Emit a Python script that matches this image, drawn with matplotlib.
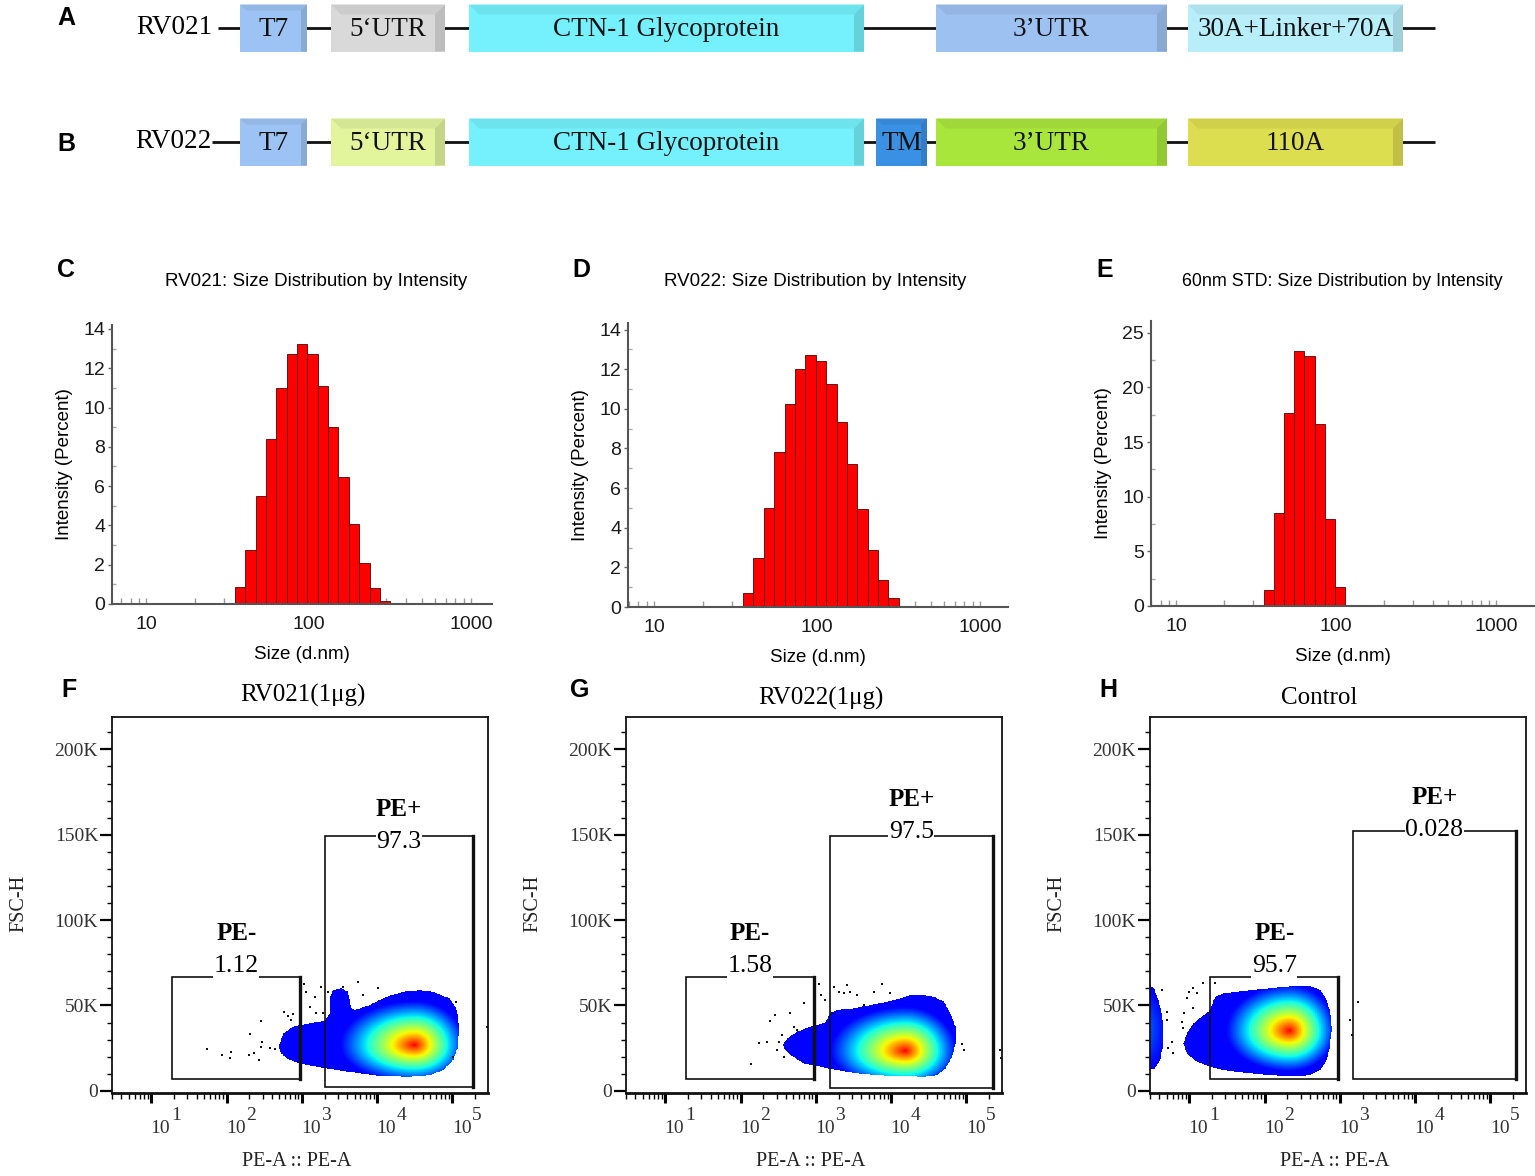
import numpy as np
import matplotlib
matplotlib.use("Agg")
import matplotlib.pyplot as plt
from matplotlib.patches import Rectangle, Polygon
from matplotlib.path import Path
from matplotlib.colors import LinearSegmentedColormap, to_rgb
import matplotlib.ticker as mticker

plt.rcParams["font.family"] = ["Liberation Sans", "DejaVu Sans"]
SANS = "Liberation Sans"
SERIF = "Liberation Serif"

# ======================= DATA =======================
# --- A / B : construct maps (schematic spans along the construct) ---
rv021_labels = ["T7", "5‘UTR", "CTN-1 Glycoprotein", "3’UTR", "30A+Linker+70A"]
rv021_spans = [(240, 307), (331, 445), (469, 864), (936, 1167), (1188, 1403)]
rv021_colors = ["#9CC3F3", "#D9D9D9", "#74F1FC", "#9DC1F1", "#B7EEF9"]
rv022_labels = ["T7", "5‘UTR", "CTN-1 Glycoprotein", "TM", "3’UTR", "110A"]
rv022_spans = [(240, 307), (331, 445), (469, 864), (876, 927), (936, 1167), (1188, 1403)]
rv022_colors = ["#9CC3F3", "#E3F59C", "#74F1FC", "#3A90E2", "#A9E63C", "#DDDD50"]

# --- C / D / E : DLS size distribution by intensity ---
dls_sizes = [37.84, 43.82, 50.75, 58.77, 68.06, 78.82, 91.28, 105.7,
             122.4, 141.8, 164.2, 190.1, 220.2, 255.0, 295.3]
rv021_intensity = [0.85, 2.75, 5.5, 8.4, 11.0, 12.7, 13.25, 12.7,
                   11.1, 9.0, 6.45, 4.05, 2.1, 0.8, 0.17]
rv022_intensity = [0.7, 2.45, 5.0, 7.8, 10.25, 12.0, 12.7, 12.4,
                   11.25, 9.35, 7.2, 4.95, 2.9, 1.38, 0.44]
std60_sizes = [37.84, 43.82, 50.75, 58.77, 68.06, 78.82, 91.28, 105.7]
std60_intensity = [1.5, 8.55, 17.65, 23.35, 22.85, 16.65, 8.0, 1.75]

# --- F / G / H : flow cytometry (PE-A vs FSC-H, FSC-H in thousands) ---
flow_titles = ["RV021(1μg)", "RV022(1μg)", "Control"]
neg_pct = ["1.12", "1.58", "95.7"]
pos_pct = ["97.3", "97.5", "0.028"]
# gates: (PE-A low, PE-A high, FSC-H low [K], FSC-H high [K])
gate_neg = [(18.8, 955, 6.7, 66.8), (19.0, 935, 6.7, 66.8), (18.8, 955, 6.7, 66.8)]
gate_pos = [(2010, 1.88e5, 2.0, 149.3), (1524, 2.23e5, 1.4, 149.3), (1483, 2.18e5, 6.7, 152.4)]

# density outlines: log10(PE-A), FSC-H [K]
F_blob_logpe = [2.697, 2.750, 2.883, 3.104, 3.303, 3.370, 3.379, 3.414, 3.525, 3.613, 3.658,
                3.702, 3.901, 4.123, 4.344, 4.566, 4.743, 4.965, 5.053, 5.089, 5.075, 5.009,
                4.876, 4.699, 4.433, 4.079, 3.768, 3.414, 3.193, 2.971, 2.794, 2.705]
F_blob_fsc = [26.8, 33.6, 37.5, 39.5, 41.0, 45.3, 55.1, 59.0, 60.0, 58.0, 48.3,
              47.3, 50.2, 55.1, 58.0, 59.0, 58.0, 54.1, 48.3, 37.5, 25.8, 18.0,
              12.1, 9.2, 8.2, 8.6, 10.2, 12.5, 14.1, 16.0, 19.0, 22.9]
G_blob_logpe = [2.564, 2.617, 2.750, 2.927, 3.126, 3.193, 3.281, 3.503, 3.724, 3.946, 4.123,
                4.256, 4.433, 4.566, 4.699, 4.787, 4.854, 4.854, 4.810, 4.721, 4.610, 4.433,
                4.167, 3.813, 3.547, 3.281, 3.060, 2.838, 2.661, 2.581]
G_blob_fsc = [27.4, 30.7, 34.6, 37.5, 39.9, 45.3, 47.3, 48.3, 50.2, 52.2, 54.1,
              56.1, 56.1, 55.1, 52.2, 45.3, 37.5, 27.7, 19.9, 13.1, 9.2, 8.2,
              8.6, 9.2, 10.2, 12.1, 14.1, 16.0, 20.9, 24.2]
H_blob_logpe = [0.920, 0.965, 1.053, 1.164, 1.275, 1.341, 1.452, 1.629, 1.806, 2.072, 2.382,
                2.604, 2.736, 2.825, 2.878, 2.891, 2.869, 2.825, 2.736, 2.604, 2.382, 2.072,
                1.718, 1.452, 1.275, 1.097, 0.965]
H_blob_fsc = [27.7, 33.6, 39.5, 43.4, 47.3, 55.1, 57.1, 58.0, 59.0, 60.0, 61.4,
              61.4, 59.0, 53.1, 45.3, 35.6, 25.8, 18.0, 12.1, 9.2, 8.6, 9.2,
              10.6, 12.1, 14.1, 17.0, 21.9]
H_edge_logpe = [0.30, 0.477, 0.530, 0.588, 0.632, 0.654, 0.646, 0.610, 0.544, 0.477, 0.30]
H_edge_fsc = [61.9, 61.9, 60.0, 53.1, 45.3, 35.6, 25.8, 18.0, 13.1, 12.1, 12.1]

# density peaks: log10 PE-A, FSC-H[K], spread left/right (decades), spread down/up (K), peak level
F_peaks = [(4.50, 26.8, 1.0, 0.68, 22, 26, 1.0)]
G_peaks = [(4.19, 23.4, 1.0, 0.68, 22, 26, 1.0)]
H_peaks = [(2.33, 35.2, 0.85, 0.62, 24, 27, 1.0)]
H_edge_peaks = [(0.40, 36.0, 0.3, 0.3, 25, 25, 0.15)]

# sparse events outside the main population
F_dots_logpe = [1.740, 1.944, 2.041, 2.054, 2.298, 2.316, 2.360, 2.431, 2.462, 2.475, 2.462, 2.581,
                2.648, 2.759, 2.816, 2.860, 2.883, 3.024, 3.060, 3.104, 3.170, 3.184, 3.259,
                3.281, 3.348, 3.547, 3.746, 3.813, 4.012, 5.053, 5.009, 5.461]
F_dots_fsc = [24.4, 21.1, 19.3, 22.9, 21.1, 33.0, 21.9, 18.0, 40.6, 28.7, 25.8, 24.8,
              24.2, 45.9, 43.8, 41.4, 44.9, 62.5, 58.0, 49.2, 55.1, 45.3, 61.0,
              45.3, 58.0, 61.0, 63.9, 56.1, 60.0, 52.2, 19.9, 37.5]
G_dots_logpe = [2.138, 2.240, 2.351, 2.395, 2.462, 2.484, 2.506, 2.550, 2.572, 2.652, 2.705,
                2.750, 2.838, 2.993, 3.038, 3.069, 3.126, 3.215, 3.237, 3.303, 3.370, 3.414,
                3.458, 3.547, 3.636, 3.769, 3.879, 3.990, 4.942, 4.965, 5.452, 5.465]
G_dots_fsc = [15.6, 28.1, 28.7, 41.0, 44.4, 23.8, 28.3, 32.6, 19.9, 45.3, 37.5,
              35.6, 51.2, 43.4, 62.5, 56.1, 53.1, 45.3, 61.0, 58.0, 57.1, 61.9,
              58.0, 56.1, 50.2, 58.0, 62.5, 57.1, 27.7, 23.8, 23.8, 19.0]
H_dots_logpe = [0.632, 0.699, 0.699, 0.721, 0.765, 0.787, 0.898, 0.920, 0.929, 0.965, 1.000,
                1.044, 1.053, 1.097, 1.186, 1.275, 1.341, 3.157, 3.135, 3.246]
H_dots_fsc = [59.0, 46.3, 41.4, 24.8, 28.7, 21.9, 40.4, 36.5, 45.3, 54.1, 58.0,
              60.0, 48.3, 57.1, 62.9, 45.3, 62.9, 32.6, 41.4, 52.2]

# ======================= FIGURE =======================
W, H = 1535, 1176
fig = plt.figure(figsize=(W / 100, H / 100), dpi=100)


def add_ax(l, t, r, b):
    return fig.add_axes([l / W, 1 - b / H, (r - l) / W, (b - t) / H])


def fig_text(x, y, s, **kw):
    fig.text(x / W, 1 - y / H, s, **kw)


def shade(c, f):
    r, g, b = to_rgb(c)
    return (r * f, g * f, b * f)


# ---------- A / B construct diagrams ----------
ax0 = fig.add_axes([0, 1 - 180 / H, 1, 180 / H])
ax0.set_xlim(0, W)
ax0.set_ylim(180, 0)
ax0.axis("off")


def draw_construct(name, labels, spans, colors, yc, line_start):
    ax0.plot([line_start, 1435], [yc, yc], color="#111111", lw=2.0, zorder=1,
             solid_capstyle="butt")
    ax0.text(212, yc, name, ha="right", va="center", fontsize=19.5, family=SERIF)
    h = 47
    for lab, (x0, x1), c in zip(labels, spans, colors):
        y0, y1 = yc - h / 2, yc + h / 2
        ax0.add_patch(Rectangle((x0, y0), x1 - x0, h, fc=c, ec="none", zorder=2))
        w = 10 if x1 - x0 > 80 else 6
        ax0.add_patch(Polygon([(x0, y0), (x1, y0), (x1 - w, y0 + w), (x0 + w, y0 + w)],
                              closed=True, fc=shade(c, 0.94), ec="none", zorder=3))
        ax0.add_patch(Polygon([(x1 - w, y0 + w), (x1, y0), (x1, y1), (x1 - w, y1)],
                              closed=True, fc=shade(c, 0.87), ec="none", zorder=3))
        ax0.text((x0 + x1) / 2, yc + 1, lab, ha="center", va="center", fontsize=19.5,
                 family=SERIF, zorder=4, color="#111111")


draw_construct("RV021", rv021_labels, rv021_spans, rv021_colors, 28, 218)
draw_construct("RV022", rv022_labels, rv022_spans, rv022_colors, 142, 212)


# ---------- C / D / E : DLS ----------
def dls_panel(ax, sizes, vals, xlim, ylim, ymajor, yminor, title, tx, tsize):
    sizes = np.asarray(sizes, dtype=float)
    r = np.sqrt(sizes[1] / sizes[0])
    left = sizes / r
    width = sizes * r - sizes / r
    ax.bar(left, vals, width=width, align="edge", color="#FF0000",
           edgecolor="#550000", linewidth=0.6, zorder=2)
    ax.set_xscale("log")
    ax.set_xlim(*xlim)
    ax.set_ylim(*ylim)
    for s in ["top", "right"]:
        ax.spines[s].set_visible(False)
    for s in ["left", "bottom"]:
        ax.spines[s].set_color("#555555")
        ax.spines[s].set_linewidth(1.5)
    ax.set_xticks([10, 100, 1000])
    ax.set_xticklabels(["10", "100", "1000"])
    ax.xaxis.set_minor_locator(mticker.LogLocator(base=10, subs=np.arange(2, 10), numticks=20))
    ax.xaxis.set_minor_formatter(mticker.NullFormatter())
    ax.tick_params(axis="x", which="both", direction="in", length=4, width=1,
                   color="#999999", labelsize=14, pad=8.5, labelcolor="#1a1a1a")
    ax.yaxis.set_major_locator(mticker.MultipleLocator(ymajor))
    ax.yaxis.set_minor_locator(mticker.MultipleLocator(yminor))
    ax.tick_params(axis="y", which="major", direction="out", length=3, width=1,
                   color="#666666", labelsize=14, pad=2, labelcolor="#1a1a1a")
    ax.tick_params(axis="y", which="minor", direction="in", length=3, width=1,
                   color="#aaaaaa")
    ax.annotate("Size (d.nm)", xy=(0.5, 0), xycoords="axes fraction", xytext=(0, -36.5),
                textcoords="offset points", ha="center", va="center", fontsize=13.5)
    ax.annotate("Intensity (Percent)", xy=(0, 0.5), xycoords="axes fraction",
                xytext=(-34, 0), textcoords="offset points", ha="center", va="center",
                rotation=90, fontsize=13.5)
    fig_text(tx, 281, title, ha="center", va="center", fontsize=tsize)


axC = add_ax(112, 325, 492, 604)
dls_panel(axC, dls_sizes, rv021_intensity, (6.15, 1346), (0, 14.2), 2, 1,
          "RV021: Size Distribution by Intensity", 316, 13.5)
axD = add_ax(628, 323, 1008, 607)
dls_panel(axD, dls_sizes, rv022_intensity, (6.92, 1486), (0, 14.33), 2, 1,
          "RV022: Size Distribution by Intensity", 815, 13.5)
axE = add_ax(1151, 321, 1534, 606)
dls_panel(axE, std60_sizes, std60_intensity, (6.95, 1720), (0, 26.07), 5, 2.5,
          "60nm STD: Size Distribution by Intensity", 1342, 12.9)

# ---------- F / G / H : flow cytometry ----------
jet = plt.get_cmap("jet")
flow_cmap = LinearSegmentedColormap.from_list(
    "flowjo", [jet(0.125 + 0.78 * t) for t in np.linspace(0, 1, 128)])

ue = np.linspace(0.3, 5.6, 600)
ve = np.linspace(-2, 72, 420)
uc = 0.5 * (ue[1:] + ue[:-1])
vc = 0.5 * (ve[1:] + ve[:-1])
UU, VV = np.meshgrid(uc, vc)
pts = np.column_stack([UU.ravel(), VV.ravel()])


def field(peaks):
    out = np.zeros_like(UU)
    for (u0, v0, rxl, rxr, ryd, ryu, amp) in peaks:
        rx = np.where(UU < u0, rxl, rxr)
        ry = np.where(VV < v0, ryd, ryu)
        d = np.sqrt(((UU - u0) / rx) ** 2 + ((VV - v0) / ry) ** 2)
        out = np.maximum(out, amp * np.clip(1 - d, 0, 1) ** 1.15)
    return out


def flow_panel(ax, blobs, dots, gneg, gpos, title, tx, ty, npct, ppct, pos_off):
    total = np.zeros_like(UU)
    mask = np.zeros(UU.shape, dtype=bool)
    for (lu, lv, peaks) in blobs:
        inside = Path(np.column_stack([lu, lv])).contains_points(pts).reshape(UU.shape)
        f = field(peaks)
        total = np.where(inside, np.maximum(total, f), total)
        mask |= inside
    Z = np.ma.masked_where(~mask, total)
    ax.pcolormesh(10 ** ue, ve, Z, cmap=flow_cmap, vmin=0, vmax=1, shading="flat",
                  antialiased=False, zorder=1, rasterized=True)
    du, dv = dots
    ax.scatter(10 ** np.asarray(du), dv, s=2.0, c="#111111", marker="s", linewidths=0,
               zorder=2)
    # gates
    for (x0, x1, y0, y1) in (gneg, gpos):
        ax.add_patch(Rectangle((x0, y0), x1 - x0, y1 - y0, fill=False, ec="#111111",
                               lw=1.2, zorder=3))
        ax.plot([x1, x1], [y0, y1], color="#111111", lw=2.4, zorder=3)
    for (g, lab, pct, off) in ((gneg, "PE-", npct, 7.5), (gpos, "PE+", ppct, pos_off)):
        xc = np.sqrt(g[0] * g[1])
        ax.annotate(pct, xy=(xc, g[3]), xytext=(0, off), textcoords="offset points",
                    ha="center", va="center", fontsize=18.5, family=SERIF, zorder=4,
                    bbox=dict(fc="white", ec="none", pad=0.3))
        ax.annotate(lab, xy=(xc, g[3]), xytext=(0, off + 23.5), textcoords="offset points",
                    ha="center", va="center", fontsize=18, family=SERIF,
                    fontweight="bold", zorder=4)
    ax.set_xscale("log")
    ax.set_xlim(10 ** 0.477, 10 ** 5.472)
    ax.set_ylim(-1.3, 219)
    for s in ax.spines.values():
        s.set_linewidth(1.3)
        s.set_color("#111111")
    ax.spines["bottom"].set_linewidth(2.0)
    ax.set_yticks([0, 50, 100, 150, 200])
    ax.set_yticklabels(["0", "50K", "100K", "150K", "200K"])
    ax.yaxis.set_minor_locator(mticker.MultipleLocator(10))
    ax.tick_params(axis="y", which="major", length=8.5, width=1.6, pad=1.5,
                   labelsize=14, labelfontfamily=SERIF, labelcolor="#333333")
    ax.tick_params(axis="y", which="minor", length=3.5, width=1.0)
    ax.set_xticks([10, 100, 1000, 1e4, 1e5])
    ax.set_xticklabels([])
    ax.xaxis.set_minor_locator(mticker.LogLocator(base=10, subs=np.arange(2, 10), numticks=20))
    ax.xaxis.set_minor_formatter(mticker.NullFormatter())
    ax.tick_params(axis="x", which="major", length=7, width=2.2)
    ax.tick_params(axis="x", which="minor", length=4, width=1.0)
    for k in range(1, 6):
        ax.annotate("10", xy=(10 ** k, 0), xycoords=("data", "axes fraction"),
                    xytext=(-0.5, -28.5), textcoords="offset points", ha="left",
                    va="baseline", fontsize=14, family=SERIF, color="#333333")
        ax.annotate(str(k), xy=(10 ** k, 0), xycoords=("data", "axes fraction"),
                    xytext=(14, -19.5), textcoords="offset points", ha="left",
                    va="baseline", fontsize=14, family=SERIF, color="#333333")
    ax.text(0.49, -0.183, "PE-A :: PE-A", transform=ax.transAxes, ha="center",
            va="center", fontsize=14.5, family=SERIF, color="#222222")
    ax.text(-0.247, 0.505, "FSC-H", transform=ax.transAxes, ha="center", va="center",
            rotation=90, fontsize=14.5, family=SERIF, color="#222222")
    fig_text(tx, ty, title, ha="center", va="center", fontsize=18, family=SERIF)


axF = add_ax(112, 717, 488, 1093)
flow_panel(axF, [(F_blob_logpe, F_blob_fsc, F_peaks)], (F_dots_logpe, F_dots_fsc),
           gate_neg[0], gate_pos[0], flow_titles[0], 303, 695, neg_pct[0], pos_pct[0], -4.5)
axG = add_ax(626, 717, 1002, 1093)
flow_panel(axG, [(G_blob_logpe, G_blob_fsc, G_peaks)], (G_dots_logpe, G_dots_fsc),
           gate_neg[1], gate_pos[1], flow_titles[1], 821, 698, neg_pct[1], pos_pct[1], 3.0)
axH = add_ax(1150, 717, 1526, 1093)
flow_panel(axH, [(H_blob_logpe, H_blob_fsc, H_peaks), (H_edge_logpe, H_edge_fsc, H_edge_peaks)],
           (H_dots_logpe, H_dots_fsc),
           gate_neg[2], gate_pos[2], flow_titles[2], 1319, 698, neg_pct[2], pos_pct[2], 0.5)

# ---------- panel letters ----------
for lab, x, y in [("A", 66, 18), ("B", 66, 144), ("C", 66, 270), ("D", 581, 270),
                  ("E", 1105, 270), ("F", 69, 690), ("G", 580, 690), ("H", 1108, 690)]:
    fig_text(x, y, lab, ha="center", va="center", fontsize=18, fontweight="bold", family=SANS)

fig.savefig("out.png", dpi=100, facecolor="white")
